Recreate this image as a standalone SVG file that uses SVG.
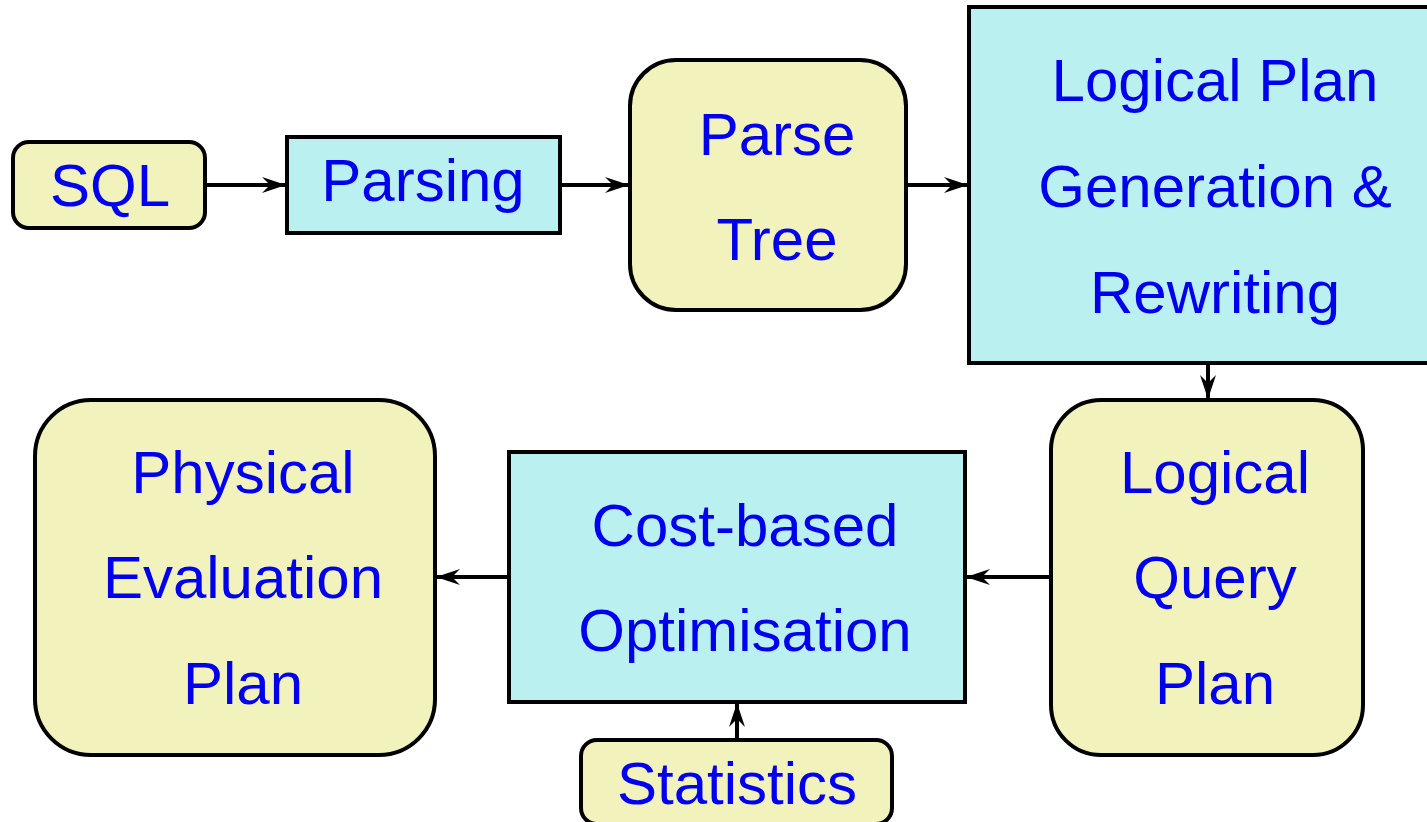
<svg xmlns="http://www.w3.org/2000/svg" width="1427" height="822" viewBox="0 0 1427 822">
<defs>
<style>
.y{fill:#F2F2BD;stroke:#000;stroke-width:4}
.c{fill:#BAF0F0;stroke:#000;stroke-width:4}
text{font-family:"Liberation Sans",Arial,sans-serif;font-size:60px;fill:#0000EE;text-anchor:middle}
.e{stroke:#000;stroke-width:4;fill:none;marker-end:url(#ah)}
</style>
<marker id="ah" viewBox="0 0 24 16" refX="23" refY="8" markerWidth="24" markerHeight="16" markerUnits="userSpaceOnUse" orient="auto">
<path d="M0,0 L24,8 L0,16 L8,8 Z" fill="#000"/>
</marker>
</defs>
<rect width="1427" height="822" fill="#fff"/>
<g id="connectors">
<line class="e" x1="205" y1="185" x2="285" y2="185"/>
<line class="e" x1="560" y1="185" x2="628" y2="185"/>
<line class="e" x1="906" y1="185" x2="967" y2="185"/>
<line class="e" x1="1208" y1="363" x2="1208" y2="398"/>
<line class="e" x1="1051" y1="577" x2="967" y2="577"/>
<line class="e" x1="509" y1="577" x2="437" y2="577"/>
<line class="e" x1="737" y1="740" x2="737" y2="704"/>
</g>
<g id="sql">
<rect class="y" x="13" y="142" width="192" height="86" rx="16"/>
<text x="110" y="206">SQL</text>
</g>
<g id="parsing">
<rect class="c" x="287" y="137" width="273" height="96"/>
<text x="423" y="201">Parsing</text>
</g>
<g id="parse-tree">
<rect class="y" x="630" y="60" width="276" height="250" rx="46"/>
<text x="777" y="155">Parse</text>
<text x="777" y="260">Tree</text>
</g>
<g id="logical-plan-gen">
<rect class="c" x="969" y="7" width="470" height="356"/>
<text x="1215" y="101">Logical Plan</text>
<text x="1215" y="207">Generation &amp;</text>
<text x="1215" y="313">Rewriting</text>
</g>
<g id="logical-query-plan">
<rect class="y" x="1051" y="400" width="312" height="355" rx="50"/>
<text x="1215" y="493">Logical</text>
<text x="1215" y="598">Query</text>
<text x="1215" y="704">Plan</text>
</g>
<g id="cost-based">
<rect class="c" x="509" y="452" width="456" height="250"/>
<text x="745" y="546">Cost-based</text>
<text x="745" y="651">Optimisation</text>
</g>
<g id="physical">
<rect class="y" x="35" y="400" width="400" height="355" rx="56"/>
<text x="243" y="493">Physical</text>
<text x="243" y="598">Evaluation</text>
<text x="243" y="704">Plan</text>
</g>
<g id="statistics">
<rect class="y" x="581" y="740" width="311" height="84" rx="16"/>
<text x="737" y="804">Statistics</text>
</g>
</svg>
